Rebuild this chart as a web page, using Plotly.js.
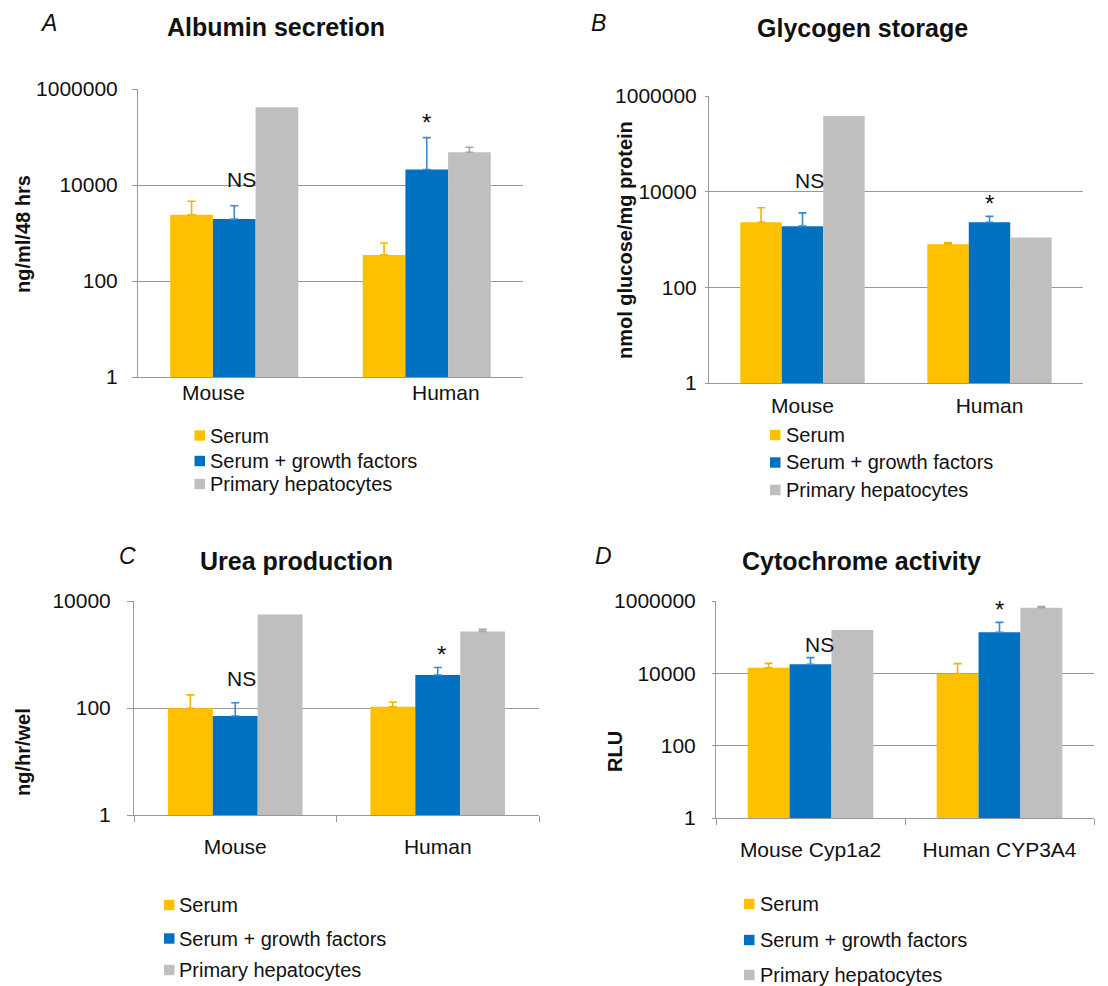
<!DOCTYPE html>
<html><head><meta charset="utf-8">
<script src="https://cdn.plot.ly/plotly-3.0.1.min.js"></script>
<style>body{margin:0;background:#fff}#chart{width:1108px;height:986px}</style>
</head><body><div id="chart"></div>
<script>
// ---- data ----
const seriesNames = ['Serum', 'Serum + growth factors', 'Primary hepatocytes'];
const catsSpecies = ['Mouse', 'Human'];
const catsCyp = ['Mouse Cyp1a2', 'Human CYP3A4'];

const albuminSerum = [2400, 350];
const albuminSerumErr = [2200, 270];
const albuminGF = [1950, 21000];
const albuminGFErr = [1750, 76000];
const albuminPrimary = [415000, 48000];
const albuminPrimaryErr = [null, 13000];

const glycogenSerum = [2300, 800];
const glycogenSerumErr = [2300, 60];
const glycogenGF = [1900, 2300];
const glycogenGFErr = [1700, 750];
const glycogenPrimary = [380000, 1100];
const glycogenPrimaryErr = [null, null];

const ureaSerum = [99, 105];
const ureaSerumErr = [77, 23];
const ureaGF = [71, 415];
const ureaGFErr = [54, 155];
const ureaPrimary = [5600, 2700];
const ureaPrimaryErr = [null, 250];

const cypSerum = [14300, 9800];
const cypSerumErr = [4600, 8700];
const cypGF = [17700, 136000];
const cypGFErr = [9400, 121000];
const cypPrimary = [158000, 654000];
const cypPrimaryErr = [null, 43000];

const yTicksA = [1, 100, 10000, 1000000];
const yTicksC = [1, 100, 10000];

// ---- styling ----
const FONT = 'Liberation Sans, Arial, sans-serif';
const colors = ['#FFC000', '#0070C0', '#BFBFBF'];
const errColors = ['#F2B200', '#3B88CF', '#A6A6A6'];
const W = 1108, H = 986;
const px = v => v / W;
const py = v => 1 - v / H;

function mk(cats, vals, errs, xa, ya) {
  return vals.map((v, i) => ({
    type: 'bar', x: cats, y: v, name: seriesNames[i],
    marker: {color: colors[i]}, showlegend: false,
    xaxis: xa, yaxis: ya,
    error_y: {type: 'data', symmetric: false,
      array: errs[i].map(e => (e === null ? NaN : e)),
      arrayminus: errs[i].map(e => (e === null ? NaN : 0)),
      color: errColors[i], thickness: 1.6, width: 4, visible: true}
  }));
}

const traces = [].concat(
  mk(catsSpecies, [albuminSerum, albuminGF, albuminPrimary], [albuminSerumErr, albuminGFErr, albuminPrimaryErr], 'x', 'y'),
  mk(catsSpecies, [glycogenSerum, glycogenGF, glycogenPrimary], [glycogenSerumErr, glycogenGFErr, glycogenPrimaryErr], 'x2', 'y2'),
  mk(catsSpecies, [ureaSerum, ureaGF, ureaPrimary], [ureaSerumErr, ureaGFErr, ureaPrimaryErr], 'x3', 'y3'),
  mk(catsCyp, [cypSerum, cypGF, cypPrimary], [cypSerumErr, cypGFErr, cypPrimaryErr], 'x4', 'y4')
);

const gridC = '#989898';
function yax(dom, range, tickvals, ticklen, standoff, anchor) {
  return {type: 'log', domain: dom, range: range, anchor: anchor, tickvals: tickvals, ticktext: tickvals.map(String),
    showgrid: true, gridcolor: gridC, gridwidth: 1, showline: true, linecolor: gridC, linewidth: 1,
    ticks: 'outside', ticklen: ticklen, tickcolor: gridC, zeroline: false,
    tickfont: {family: FONT, size: 21, color: '#111'}, ticklabelstandoff: standoff, fixedrange: true};
}
function xax(dom, anchor, ticks, showLabels, standoff) {
  return {domain: dom, anchor: anchor, type: 'category', showline: true, linecolor: gridC, linewidth: 1,
    ticks: ticks, tickson: 'boundaries', ticklen: 6, tickcolor: gridC, showticklabels: showLabels,
    tickfont: {family: FONT, size: 21, color: '#111'}, ticklabelstandoff: standoff, fixedrange: true};
}

const ann = [];
const shapes = [];
function txt(x, y, text, opts) {
  ann.push(Object.assign({xref: 'paper', yref: 'paper', x: px(x), y: py(y), text: text, showarrow: false,
    xanchor: 'center', yanchor: 'middle', font: {family: FONT, size: 25, color: '#111'}}, opts || {}));
}
const letterFont = {family: FONT, size: 23, color: '#111'};
const ytFont = {family: FONT, size: 20, color: '#111'};
// panel letters & titles
txt(48, 23, '<i>A</i>', {font: letterFont});
txt(276, 27, '<b>Albumin secretion</b>');
txt(598, 23, '<i>B</i>', {font: letterFont});
txt(862, 28, '<b>Glycogen storage</b>');
txt(127, 556, '<i>C</i>', {font: letterFont});
txt(296, 561, '<b>Urea production</b>');
txt(603, 556, '<i>D</i>', {font: letterFont});
txt(861, 561, '<b>Cytochrome activity</b>');
// y titles
txt(23, 234, '<b>ng/ml/48 hrs</b>', {textangle: -90, font: ytFont});
txt(625, 240, '<b>nmol glucose/mg protein</b>', {textangle: -90, font: ytFont});
txt(23, 752, '<b>ng/hr/wel</b>', {textangle: -90, font: ytFont});
txt(615, 752, '<b>RLU</b>', {textangle: -90, font: ytFont});

// category labels for panel A (offset in original)
ann.push({xref: 'x', yref: 'paper', x: -0.11, y: py(392), text: catsSpecies[0], showarrow: false,
  xanchor: 'center', yanchor: 'middle', font: {family: FONT, size: 21, color: '#111'}});
ann.push({xref: 'x', yref: 'paper', x: 1.10, y: py(392), text: catsSpecies[1], showarrow: false,
  xanchor: 'center', yanchor: 'middle', font: {family: FONT, size: 21, color: '#111'}});

// significance marks
function sig(xr, yr, x, y, t, size) {
  ann.push({xref: xr, yref: yr, x: x, y: Math.log10(y), text: t, showarrow: false,
    xanchor: 'center', yanchor: 'middle', font: {family: FONT, size: size, color: '#111'}});
}
sig('x', 'y', 0.04, 13000, 'NS', 21);
sig('x', 'y', 1.0, 200000, '*', 24);
sig('x2', 'y2', 0.04, 17300, 'NS', 21);
sig('x2', 'y2', 1.0, 5600, '*', 24);
sig('x3', 'y3', 0.03, 360, 'NS', 21);
sig('x3', 'y3', 1.02, 980, '*', 24);
sig('x4', 'y4', 0.05, 64600, 'NS', 21);
sig('x4', 'y4', 1.0, 600000, '*', 24);

// legends (one per panel)
function legendBlock(sqX, textX, ys) {
  seriesNames.forEach((n, i) => {
    shapes.push({type: 'rect', xref: 'paper', yref: 'paper',
      x0: px(sqX), x1: px(sqX + 10.5), y0: py(ys[i] + 5.2), y1: py(ys[i] - 5.2),
      fillcolor: colors[i], line: {width: 0}});
    ann.push({xref: 'paper', yref: 'paper', x: px(textX), y: py(ys[i]), text: n, showarrow: false,
      xanchor: 'left', yanchor: 'middle', font: {family: FONT, size: 20, color: '#111'}});
  });
}
legendBlock(194.5, 208, [435.5, 461, 484]);
legendBlock(770, 784, [435, 462.5, 490]);
legendBlock(164, 177, [905, 938.5, 970]);
legendBlock(744, 758, [904, 940, 975]);

const layout = {
  width: W, height: H, margin: {l: 0, r: 0, t: 0, b: 0},
  paper_bgcolor: '#fff', plot_bgcolor: '#fff',
  barmode: 'group', bargap: 0.335, bargroupgap: 0,
  showlegend: false,
  font: {family: FONT, color: '#111'},
  xaxis: xax([px(138), px(523)], 'y', '', false, 0),
  yaxis: yax([py(377), py(89)], [0, 6], yTicksA, 5, 10, 'x'),
  xaxis2: xax([px(709), px(1083)], 'y2', '', true, 4),
  yaxis2: yax([py(383), py(96)], [0, 6], yTicksA, 3, 4, 'x2'),
  xaxis3: xax([px(134), px(539)], 'y3', 'outside', true, 13),
  yaxis3: yax([py(815), py(601)], [0, 4], yTicksC, 6, 12, 'x3'),
  xaxis4: xax([px(716), px(1094)], 'y4', 'outside', true, 13),
  yaxis4: yax([py(818), py(601)], [0, 6], yTicksA, 3, 12, 'x4'),
  annotations: ann,
  shapes: shapes
};

Plotly.newPlot('chart', traces, layout, {staticPlot: true, displayModeBar: false});
</script></body></html>
